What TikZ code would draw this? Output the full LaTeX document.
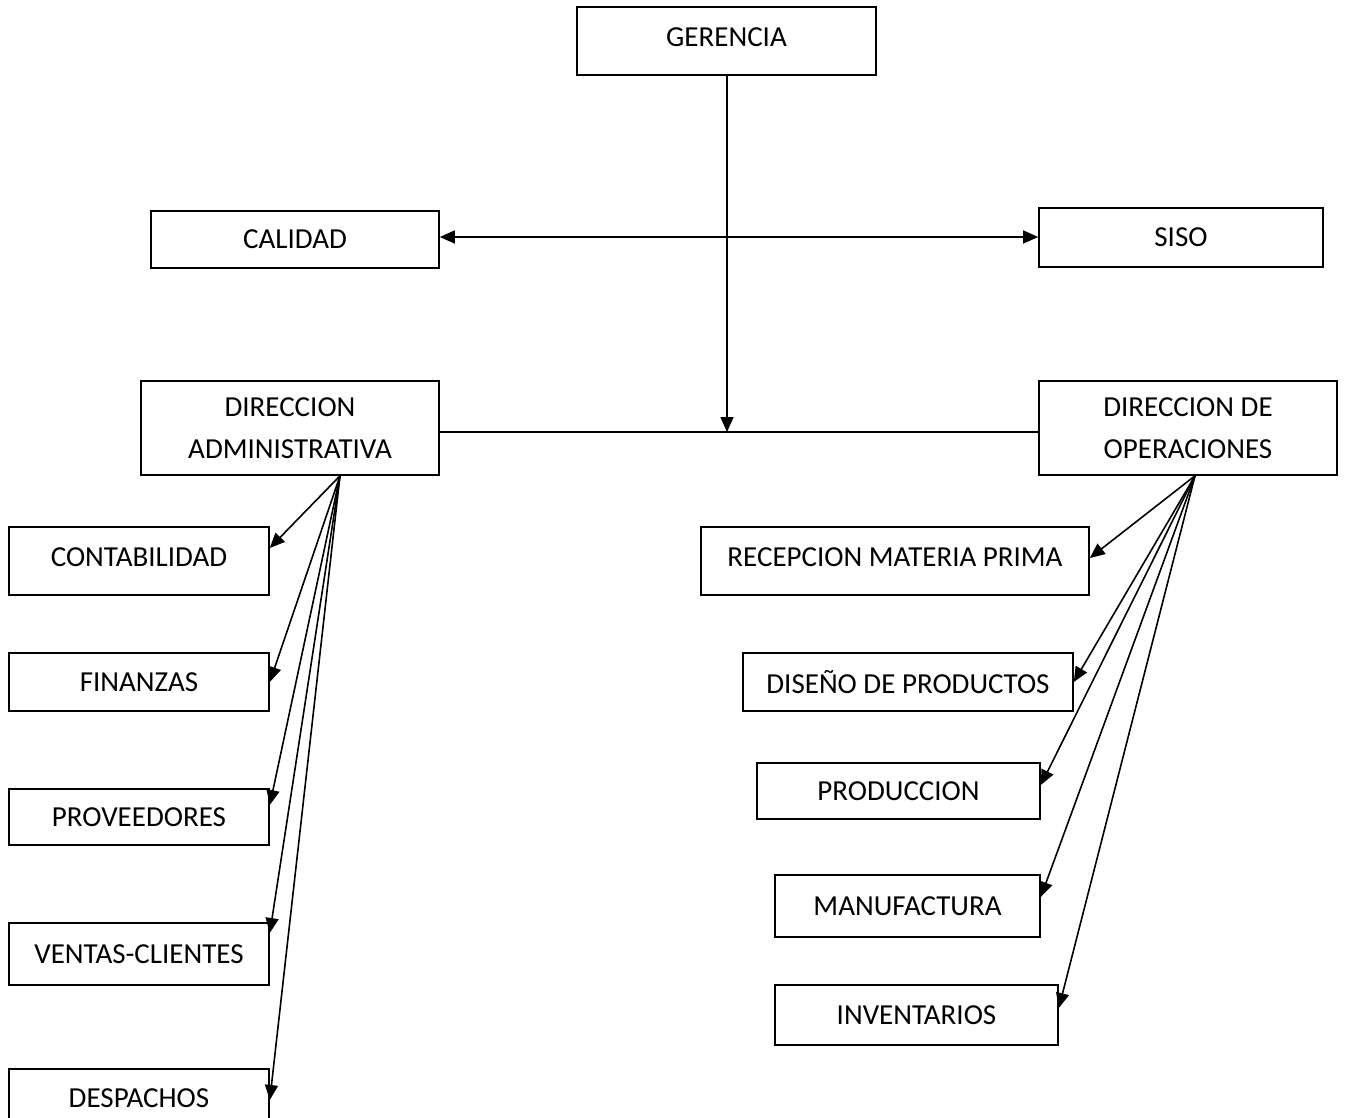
\documentclass[tikz,border=0pt]{standalone}
\usepackage{fontspec}
\setmainfont{Carlito}
\usetikzlibrary{arrows.meta}
\begin{document}
\begin{tikzpicture}[x=1pt,y=-1pt,
  unit/.style={draw=black, line width=1.6pt, rectangle, inner sep=0pt,
    align=center, font=\fontsize{29}{42}\selectfont},
  lifted/.style={text height=18.3pt, text depth=#1},
  link/.style={draw=black, line width=1.6pt},
  arr/.style={link, -{Triangle[length=15pt,width=13pt]}},
  darr/.style={link, {Triangle[length=15pt,width=13pt]}-{Triangle[length=15pt,width=13pt]}}]
\useasboundingbox (0,0) rectangle (1345,1118);

% top level
\node[unit, lifted=8pt, minimum width=299, minimum height=68] (ger) at (726.5,41) {GERENCIA};
\node[unit, minimum width=288, minimum height=57] (cal) at (295,239.5) {CALIDAD};
\node[unit, minimum width=284, minimum height=59] (siso) at (1181,237.5) {SISO};

% directions
\node[unit, minimum width=298, minimum height=94] (da) at (290,428) {DIRECCION\\ADMINISTRATIVA};
\node[unit, minimum width=298, minimum height=94] (do) at (1188,428) {DIRECCION DE\\OPERACIONES};

% administrative units
\node[unit, lifted=8pt, minimum width=260, minimum height=68] (cont) at (139,561) {CONTABILIDAD};
\node[unit, minimum width=260, minimum height=58] (fin) at (139,682) {FINANZAS};
\node[unit, minimum width=260, minimum height=56] (prov) at (139,817) {PROVEEDORES};
\node[unit, minimum width=260, minimum height=62] (vent) at (139,954) {VENTAS-CLIENTES};
\node[unit, minimum width=260, minimum height=58] (desp) at (139,1098) {DESPACHOS};

% operations units
\node[unit, lifted=8pt, minimum width=388, minimum height=68] (rec) at (895,561) {RECEPCION MATERIA PRIMA};
\node[unit, minimum width=330, minimum height=58] (dis) at (908,682) {DISEÑO DE PRODUCTOS};
\node[unit, minimum width=283, minimum height=56] (prod) at (898.5,791) {PRODUCCION};
\node[unit, minimum width=265, minimum height=62] (man) at (907.5,906) {MANUFACTURA};
\node[unit, minimum width=283, minimum height=60] (inv) at (916.5,1015) {INVENTARIOS};

% junction points
\coordinate (staff) at (727,237);
\coordinate (join) at (727,432);
\coordinate (dafan) at ([xshift=50pt]da.south);
\coordinate (dofan) at ([xshift=7pt]do.south);

% main trunk and staff line
\draw[arr] (ger.south -| join) -- (join);
\draw[darr] (cal.east |- staff) -- (siso.west |- staff);
\draw[link] (da.east |- join) -- (do.west |- join);

% administrative fan
\draw[arr] (dafan) -- ([yshift=13pt]cont.east);
\draw[arr] (dafan) -- (fin.east);
\draw[arr] (dafan) -- ([yshift=12pt]prov.east);
\draw[arr] (dafan) -- ([yshift=21pt]vent.east);
\draw[arr] (dafan) -- ([yshift=-2pt]desp.east);

% operations fan
\draw[arr] (dofan) -- ([yshift=3pt]rec.east);
\draw[arr] (dofan) -- (dis.east);
\draw[arr] (dofan) -- ([yshift=6pt]prod.east);
\draw[arr] (dofan) -- ([yshift=9pt]man.east);
\draw[arr] (dofan) -- ([yshift=7pt]inv.east);
\end{tikzpicture}
\end{document}
